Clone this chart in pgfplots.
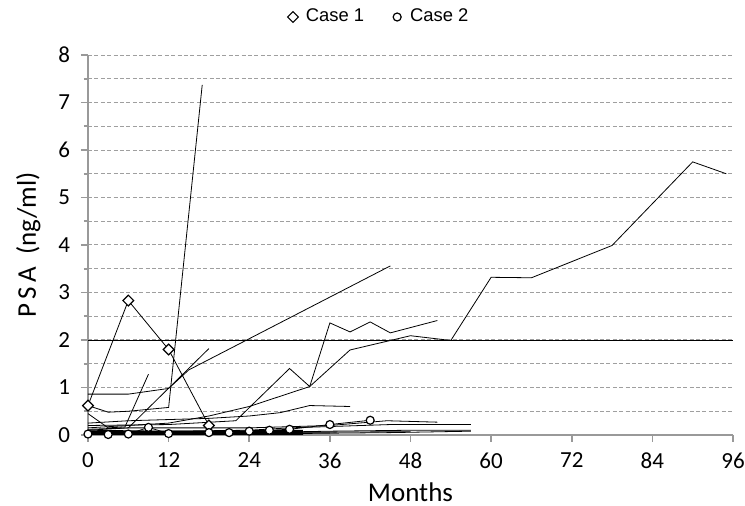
\documentclass[border=0pt]{standalone}
\usepackage{pgfplots}
\pgfplotsset{compat=1.18}
\usepackage{fontspec}
\setmainfont{Carlito}
\newfontfamily\arialfont{Liberation Sans}
\begin{document}
\begin{tikzpicture}
\begin{axis}[
  scale only axis, width=322.5pt, height=190pt,
  at={(0,0)}, anchor=south west,
  xmin=0, xmax=96, ymin=0, ymax=8,
  xtick={0,12,...,96}, ytick={0,1,...,8},
  minor ytick={0.5,1.5,...,7.5},
  ymajorgrids, yminorgrids,
  major grid style={gray!75, dash pattern=on 2pt off 1.2pt, line width=0.5pt},
  minor grid style={gray!75, dash pattern=on 2pt off 1.2pt, line width=0.5pt},
  axis x line*=bottom, axis y line*=left,
  axis line style={gray!80, line width=0.8pt},
  tick align=outside, major tick length=3.5pt, minor tick length=2pt,
  tick style={gray!80, line width=0.8pt},
  ticklabel style={font=\fontsize{11.5}{13}\selectfont},
  yticklabel style={xshift=-2pt},
  xticklabel style={yshift=-2pt},
  /pgf/number format/assume math mode=true,
  xlabel={Months}, ylabel={P\,S\,A\ \ (ng/ml)},
  label style={font=\fontsize{13.5}{15}\selectfont},
  ylabel shift=2pt, xlabel shift=0pt,
  every plot/.append style={black, line width=1.5pt},
  legend style={at={(0.45,1.1)}, anchor=center, legend columns=2, draw=none, fill=none,
    font=\arialfont\fontsize{9.2}{11}\selectfont,
    /tikz/every even column/.append style={column sep=10pt},
    legend cell align=left},
  legend image code/.code={\path (0cm,0cm) (0.3cm,0cm); \draw[#1] plot[only marks] coordinates {(0.15cm,0cm)};},
]
% Case 1
\addplot[mark=square*, mark size=1.9pt, mark options={rotate=45, fill=white, draw=black, line width=0.6pt}]
  coordinates {(0,0.62) (6,2.83) (12,1.80) (18,0.2)};
\addlegendentry{Case 1}
% Case 2
\addplot[mark=*, mark size=2pt, mark options={fill=white, draw=black, line width=0.6pt}]
  coordinates {(0,0.02) (3,0.01) (6,0.02) (9,0.16) (12,0.03) (18,0.05) (21,0.05) (24,0.08) (27,0.1) (30,0.12) (36,0.22) (42,0.31)};
\addlegendentry{Case 2}
% reference line
\addplot[forget plot] coordinates {(0,2) (96,2)};
% other patients
\addplot[forget plot] coordinates {(0,0.86) (6,0.86) (12,0.98) (15,1.37) (45,3.56)};
\addplot[forget plot] coordinates {(0,0.62) (3,0.48) (6,0.5) (12,0.58) (17,7.37)};
\addplot[forget plot] coordinates {(0,0.45) (3,0.15) (5.5,0.17) (9,1.28)};
\addplot[forget plot] coordinates {(0,0.1) (6,0.15) (18,1.82)};
\addplot[forget plot] coordinates {(0,0.2) (12,0.22) (22,0.3) (30,1.4) (33,1.02) (36,2.36) (39,2.17) (42,2.38) (45,2.15) (52,2.41)};
\addplot[forget plot] coordinates {(0,0.15) (12,0.25) (18,0.4) (24,0.6) (33,1.02) (39,1.79) (48,2.09) (54,1.99) (60,3.32) (66,3.31) (78,3.99) (90,5.75) (95,5.5)};
\addplot[forget plot] coordinates {(0,0.25) (6,0.3) (18,0.35) (24,0.4) (28.6,0.47) (33,0.62) (39,0.6)};
\addplot[forget plot] coordinates {(0,0.05) (12,0.05) (24,0.05) (36,0.08) (48,0.1) (57,0.1)};
\addplot[forget plot] coordinates {(0,0.03) (18,0.02) (30,0.03) (45,0.05) (57,0.08)};
\addplot[forget plot] coordinates {(0,0.08) (12,0.07) (24,0.06) (36,0.06) (48,0.07)};
\addplot[forget plot] coordinates {(0,0.1) (12,0.08) (24,0.1) (30,0.15) (45,0.22) (57,0.22)};
\addplot[forget plot] coordinates {(0,0.12) (6,0.15) (12,0.15) (24,0.15) (36,0.2) (44.5,0.3) (52,0.27)};
\addplot[forget plot] coordinates {(0,0.04) (6,0.03) (12,0.04) (18,0.04) (24,0.03) (30,0.04) (36,0.04)};
\addplot[forget plot, line width=2.8pt] coordinates {(0,0.03) (12,0.03) (24,0.04) (32,0.05)};
\end{axis}
\pgfresetboundingbox
\useasboundingbox (-44pt,-35.5pt) rectangle (328.5pt,217.5pt);
\end{tikzpicture}
\end{document}
